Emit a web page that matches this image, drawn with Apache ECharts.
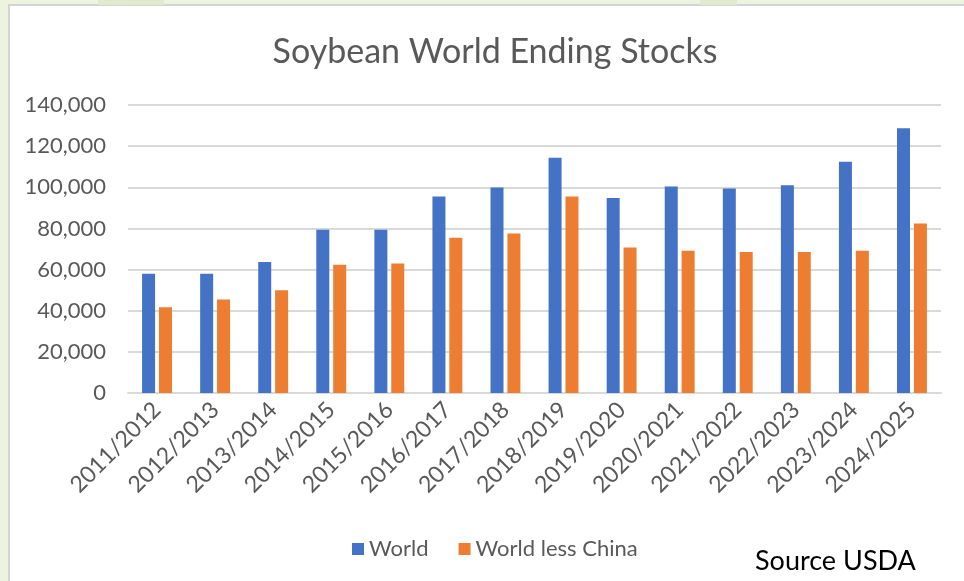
<!DOCTYPE html>
<html>
<head>
<meta charset="utf-8">
<script src="https://cdn.jsdelivr.net/npm/echarts@6/dist/echarts.min.js"></script>
<style>
  html, body { margin: 0; padding: 0; }
  #main { width: 964px; height: 581px; }
</style>
</head>
<body>
<div id="main"></div>
<script>
// marketing years
var years = ['2011/2012', '2012/2013', '2013/2014', '2014/2015', '2015/2016', '2016/2017', '2017/2018',
  '2018/2019', '2019/2020', '2020/2021', '2021/2022', '2022/2023', '2023/2024', '2024/2025'];
// ending stocks, 1000 t
var world = [58000, 58000, 63700, 79400, 79400, 95500, 99900, 114300, 94800, 100400, 99400, 101000, 112400, 128700];
var worldLessChina = [41700, 45500, 49900, 62400, 63000, 75500, 77500, 95500, 70700, 69200, 68500, 68500, 69200, 82400];
var yTicks = [0, 20000, 40000, 60000, 80000, 100000, 120000, 140000];

var font = 'Lato';
var grey = '#595959';

var chart = echarts.init(document.getElementById('main'));

var option = {
  backgroundColor: '#EEF3DF',
  animation: false,
  graphic: [
    { type: 'rect', shape: { x: 98, y: 0, width: 66, height: 5 }, style: { fill: '#E2E9CF' } },
    { type: 'rect', shape: { x: 700, y: 0, width: 37, height: 5 }, style: { fill: '#E2E9CF' } },
    { type: 'rect', z: -1, shape: { x: 9, y: 5, width: 970, height: 590 },
      style: { fill: '#ffffff', stroke: '#D4D4D4', lineWidth: 2 } },
    { type: 'text', left: 755, top: 548,
      style: { text: 'Source USDA', fontFamily: font, fontSize: 27, fill: '#000000' } }
  ],
  title: {
    text: 'Soybean World Ending Stocks',
    left: 490,
    top: 30,
    textAlign: 'center',
    textStyle: { fontFamily: font, fontSize: 34, fontWeight: 'normal', color: grey }
  },
  legend: {
    data: ['World', 'World less China'],
    left: 347,
    top: 533,
    icon: 'rect',
    itemWidth: 12,
    itemHeight: 12,
    itemGap: 30,
    textStyle: { fontFamily: font, fontSize: 22, color: grey }
  },
  grid: { left: 128, right: 23, top: 105, bottom: 188 },
  xAxis: {
    type: 'category',
    data: years,
    axisLine: { lineStyle: { color: '#D9D9D9', width: 2 } },
    axisTick: { show: false },
    axisLabel: { rotate: 45, margin: 13, interval: 0, fontFamily: font, fontSize: 23, color: grey }
  },
  yAxis: {
    type: 'value',
    min: 0,
    max: 140000,
    interval: 20000,
    axisLine: { show: false },
    axisTick: { show: false },
    splitLine: { lineStyle: { color: '#D9D9D9', width: 2 } },
    axisLabel: {
      margin: 22, fontFamily: font, fontSize: 22, color: grey,
      formatter: function (v) { return yTicks.indexOf(v) >= 0 ? v.toLocaleString('en-US') : ''; }
    }
  },
  series: [
    {
      name: 'World', type: 'bar', data: world,
      barWidth: 13, barGap: '30%',
      itemStyle: { color: '#4472C4' }
    },
    {
      name: 'World less China', type: 'bar', data: worldLessChina,
      barWidth: 13,
      itemStyle: { color: '#ED7D31' }
    }
  ]
};

chart.setOption(option);
</script>
</body>
</html>
